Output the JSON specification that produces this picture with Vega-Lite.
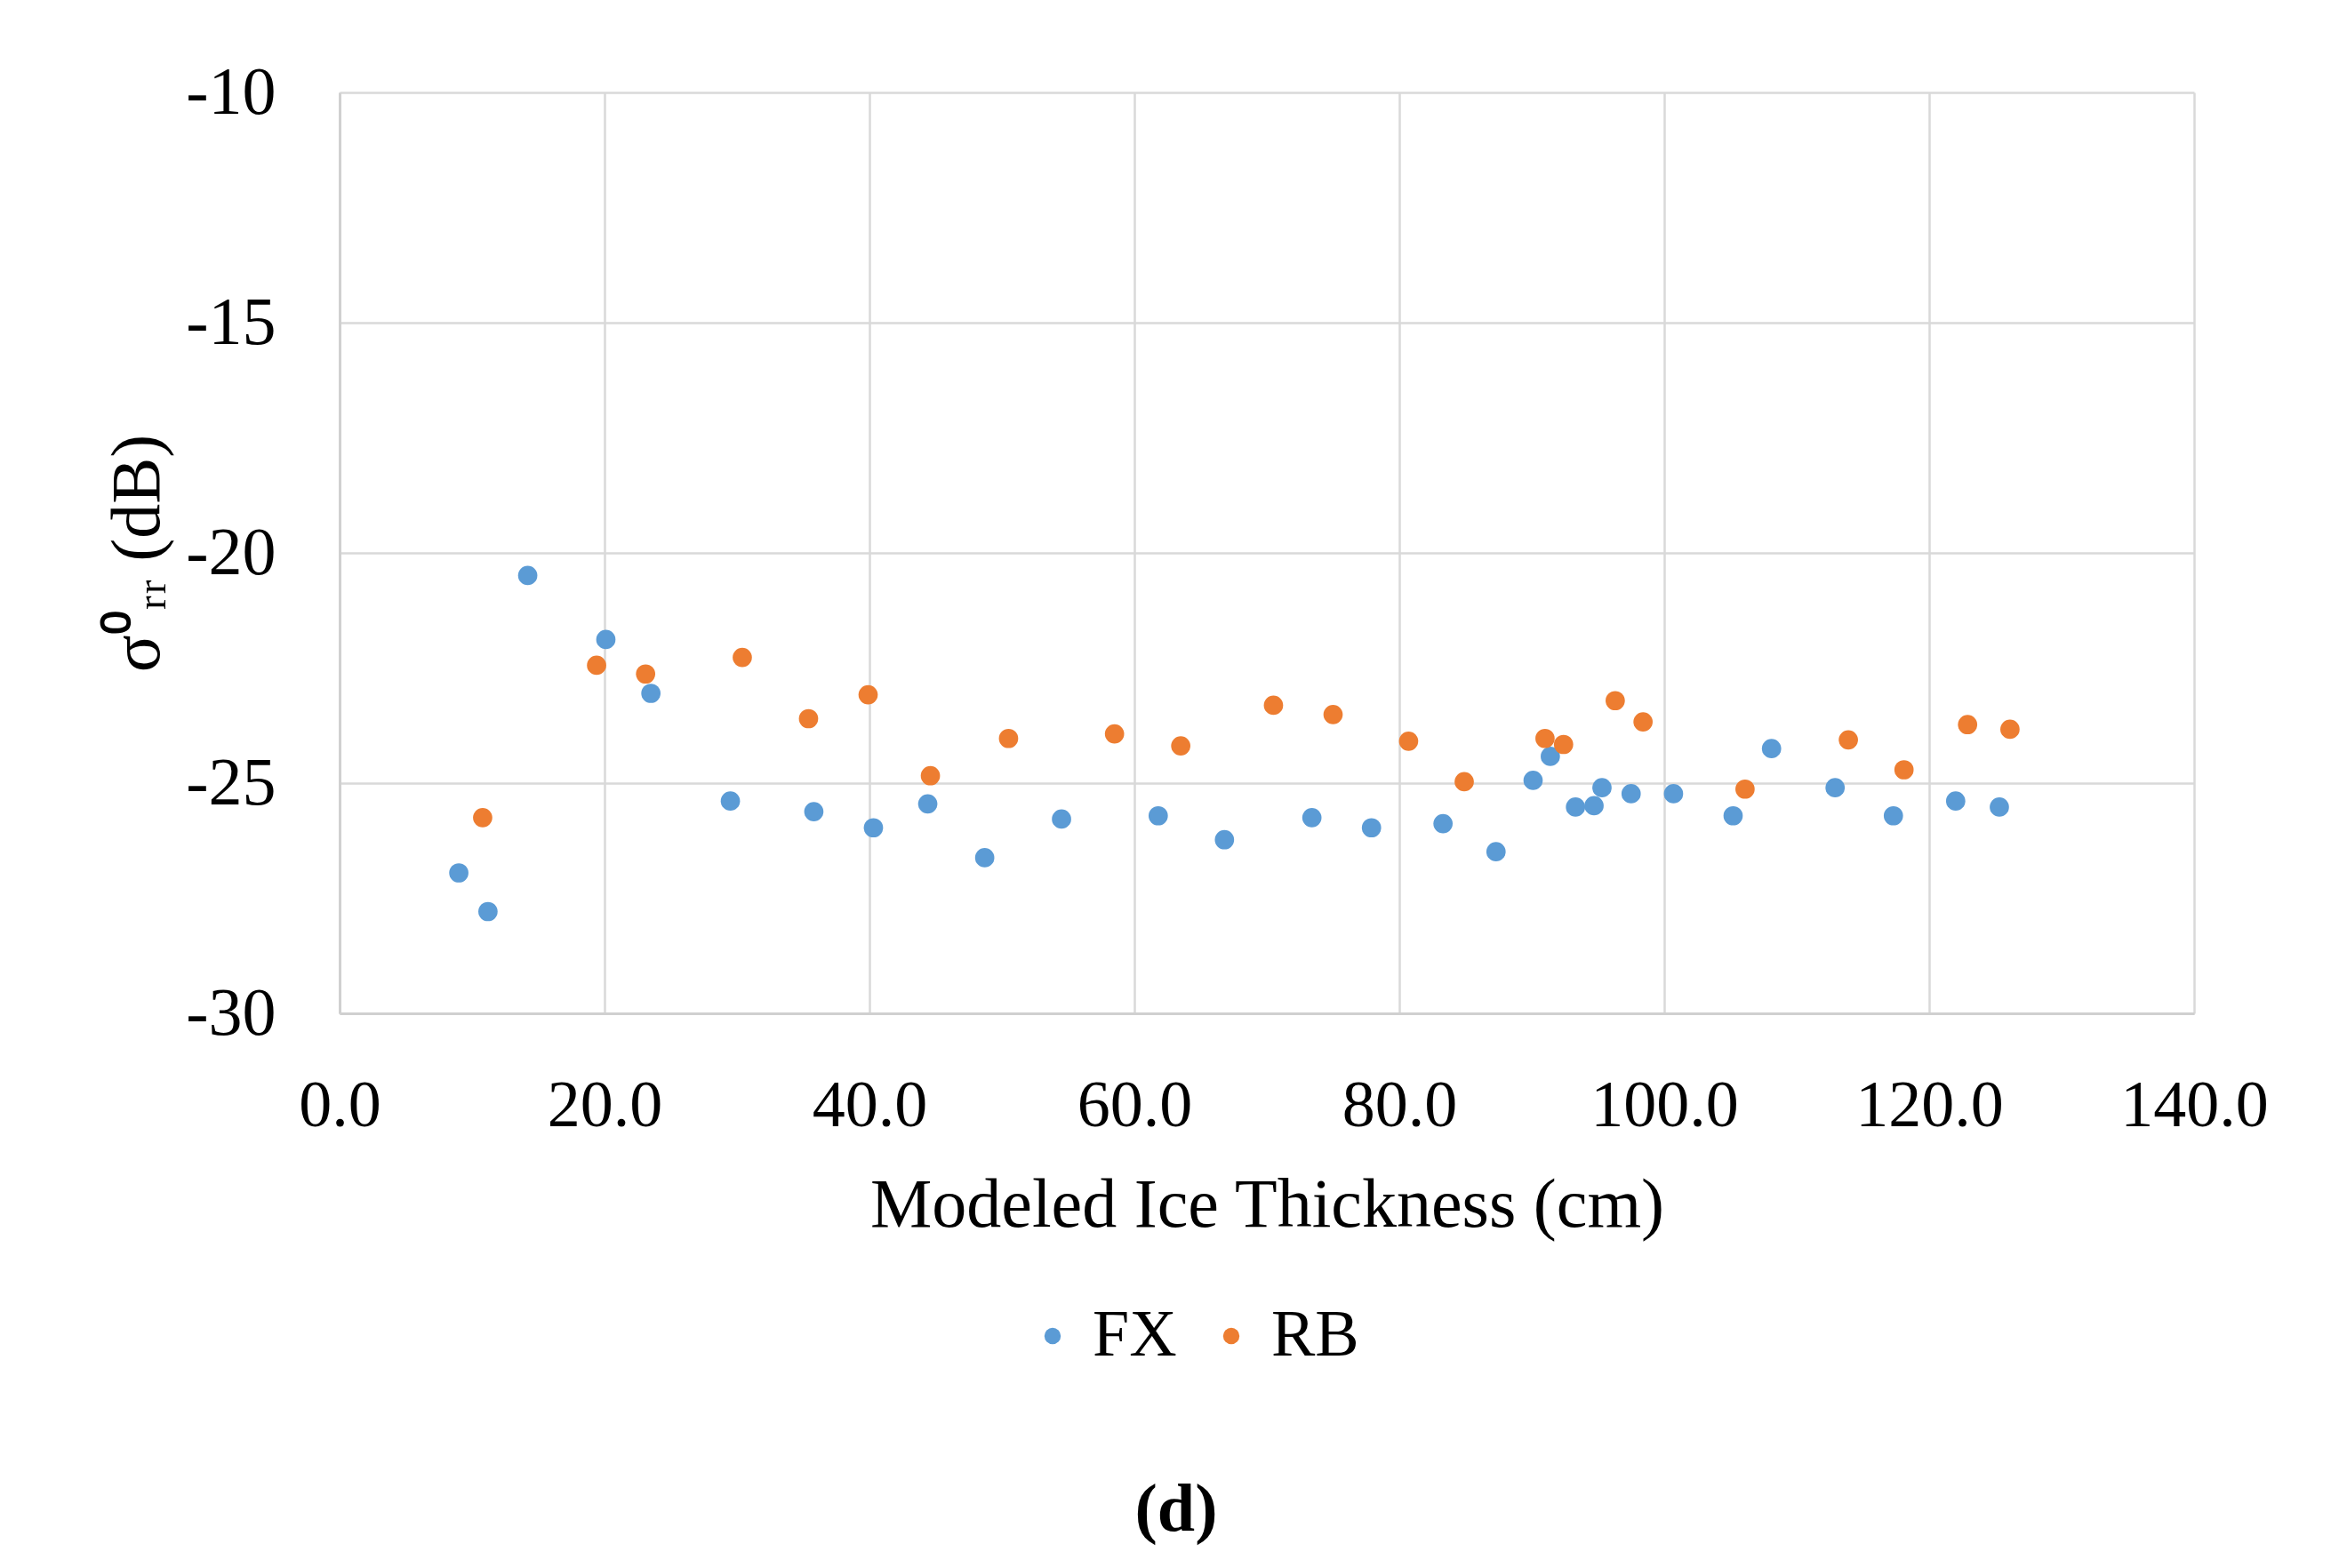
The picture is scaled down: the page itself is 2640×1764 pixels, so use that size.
{
  "$schema": "https://vega.github.io/schema/vega-lite/v6.json",
  "autosize": {"type": "none"},
  "width": 2086,
  "height": 1036,
  "padding": {"left": 382, "top": 104, "right": 172, "bottom": 624},
  "background": "white",
  "title": {
    "text": "(d)",
    "orient": "bottom",
    "anchor": "middle",
    "frame": "group",
    "dx": -102,
    "offset": 122,
    "font": "Liberation Serif",
    "fontSize": 76,
    "fontWeight": "bold",
    "color": "#000000"
  },
  "data": {
    "values": [
      {"thickness": 9.0, "sigma": -26.95, "site": "FX"},
      {"thickness": 11.2, "sigma": -27.79, "site": "FX"},
      {"thickness": 14.2, "sigma": -20.49, "site": "FX"},
      {"thickness": 20.1, "sigma": -21.88, "site": "FX"},
      {"thickness": 23.5, "sigma": -23.05, "site": "FX"},
      {"thickness": 29.5, "sigma": -25.39, "site": "FX"},
      {"thickness": 35.8, "sigma": -25.62, "site": "FX"},
      {"thickness": 40.3, "sigma": -25.97, "site": "FX"},
      {"thickness": 44.4, "sigma": -25.45, "site": "FX"},
      {"thickness": 48.7, "sigma": -26.62, "site": "FX"},
      {"thickness": 54.5, "sigma": -25.78, "site": "FX"},
      {"thickness": 61.8, "sigma": -25.71, "site": "FX"},
      {"thickness": 66.8, "sigma": -26.23, "site": "FX"},
      {"thickness": 73.4, "sigma": -25.75, "site": "FX"},
      {"thickness": 77.9, "sigma": -25.97, "site": "FX"},
      {"thickness": 83.3, "sigma": -25.88, "site": "FX"},
      {"thickness": 87.3, "sigma": -26.49, "site": "FX"},
      {"thickness": 90.1, "sigma": -24.94, "site": "FX"},
      {"thickness": 91.4, "sigma": -24.42, "site": "FX"},
      {"thickness": 93.3, "sigma": -25.52, "site": "FX"},
      {"thickness": 94.7, "sigma": -25.49, "site": "FX"},
      {"thickness": 95.3, "sigma": -25.10, "site": "FX"},
      {"thickness": 97.5, "sigma": -25.23, "site": "FX"},
      {"thickness": 100.7, "sigma": -25.23, "site": "FX"},
      {"thickness": 105.2, "sigma": -25.71, "site": "FX"},
      {"thickness": 108.1, "sigma": -24.25, "site": "FX"},
      {"thickness": 112.9, "sigma": -25.10, "site": "FX"},
      {"thickness": 117.3, "sigma": -25.71, "site": "FX"},
      {"thickness": 122.0, "sigma": -25.39, "site": "FX"},
      {"thickness": 125.3, "sigma": -25.52, "site": "FX"},
      {"thickness": 10.8, "sigma": -25.75, "site": "RB"},
      {"thickness": 19.4, "sigma": -22.44, "site": "RB"},
      {"thickness": 23.1, "sigma": -22.63, "site": "RB"},
      {"thickness": 30.4, "sigma": -22.27, "site": "RB"},
      {"thickness": 35.4, "sigma": -23.60, "site": "RB"},
      {"thickness": 39.9, "sigma": -23.08, "site": "RB"},
      {"thickness": 44.6, "sigma": -24.84, "site": "RB"},
      {"thickness": 50.5, "sigma": -24.03, "site": "RB"},
      {"thickness": 58.5, "sigma": -23.93, "site": "RB"},
      {"thickness": 63.5, "sigma": -24.19, "site": "RB"},
      {"thickness": 70.5, "sigma": -23.31, "site": "RB"},
      {"thickness": 75.0, "sigma": -23.51, "site": "RB"},
      {"thickness": 80.7, "sigma": -24.09, "site": "RB"},
      {"thickness": 84.9, "sigma": -24.97, "site": "RB"},
      {"thickness": 91.0, "sigma": -24.03, "site": "RB"},
      {"thickness": 92.4, "sigma": -24.16, "site": "RB"},
      {"thickness": 96.3, "sigma": -23.21, "site": "RB"},
      {"thickness": 98.4, "sigma": -23.67, "site": "RB"},
      {"thickness": 106.1, "sigma": -25.13, "site": "RB"},
      {"thickness": 113.9, "sigma": -24.06, "site": "RB"},
      {"thickness": 118.1, "sigma": -24.71, "site": "RB"},
      {"thickness": 122.9, "sigma": -23.73, "site": "RB"},
      {"thickness": 126.1, "sigma": -23.83, "site": "RB"}
    ]
  },
  "mark": {"type": "circle", "size": 470, "opacity": 1},
  "encoding": {
    "x": {
      "field": "thickness",
      "type": "quantitative",
      "scale": {"domain": [0, 140], "nice": false, "zero": false},
      "axis": {
        "title": "Modeled Ice Thickness (cm)",
        "values": [0, 20, 40, 60, 80, 100, 120, 140],
        "format": ".1f",
        "labelFlush": false,
        "labelFontSize": 74,
        "labelPadding": 68,
        "titlePadding": 36
      }
    },
    "y": {
      "field": "sigma",
      "type": "quantitative",
      "scale": {"domain": [-30, -10], "nice": false, "zero": false},
      "axis": {
        "title": "σ⁰ᵣᵣ (dB)",
        "values": [-30, -25, -20, -15, -10],
        "labelExpr": "'' + datum.value",
        "labelFontSize": 76,
        "labelPadding": 72,
        "titlePadding": 14
      }
    },
    "color": {
      "field": "site",
      "type": "nominal",
      "scale": {"domain": ["FX", "RB"], "range": ["#5B9BD5", "#ED7D31"]},
      "legend": {
        "title": null,
        "orient": "none",
        "direction": "horizontal",
        "legendX": 765,
        "legendY": 1362,
        "symbolType": "circle",
        "symbolSize": 340,
        "symbolOpacity": 1,
        "labelFont": "Liberation Serif",
        "labelFontSize": 74,
        "labelColor": "#000000",
        "labelOffset": 8,
        "columnPadding": 24,
        "symbolStrokeWidth": 0
      }
    }
  },
  "config": {
    "view": {"stroke": null},
    "axis": {
      "grid": true,
      "gridColor": "#D9D9D9",
      "gridWidth": 2.5,
      "domainColor": "#D0D0D0",
      "domainWidth": 3,
      "ticks": false,
      "labelFont": "Liberation Serif",
      "labelColor": "#000000",
      "titleFont": "Liberation Serif",
      "titleFontSize": 78,
      "titleFontWeight": "normal",
      "titleColor": "#000000"
    }
  }
}
